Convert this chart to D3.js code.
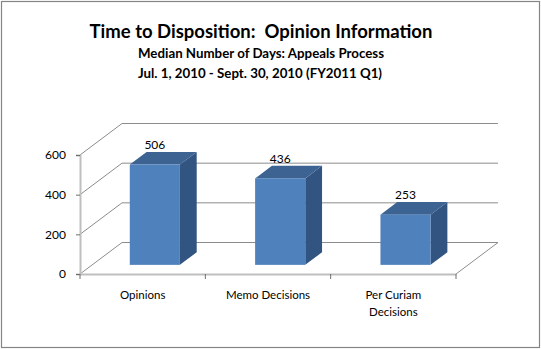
<!DOCTYPE html>
<html>
<head>
<meta charset="utf-8">
<script src="https://cdn.jsdelivr.net/npm/d3@7"></script>
<style>
  body { margin: 0; background: #fff; }
  text { font-family: Lato, "Open Sans", sans-serif; white-space: pre; }
</style>
</head>
<body>
<svg id="chart" width="541" height="349"></svg>
<script>
// chart data
const categories = ["Opinions", "Memo Decisions", "Per Curiam Decisions"];
const medianDays = [506, 436, 253];
const yTicks = [0, 200, 400, 600];
const titleLines = [
    "Time to Disposition:  Opinion Information",
    "Median Number of Days: Appeals Process",
    "Jul. 1, 2010 - Sept. 30, 2010 (FY2011 Q1)"
];

const svg = d3.select("#chart");

// outer border
svg.append("rect")
    .attr("x", 1.5).attr("y", 1.5)
    .attr("width", 538).attr("height", 346)
    .attr("fill", "#fff")
    .attr("stroke", "#858585")
    .attr("stroke-width", 1.2);

// titles
svg.append("text").attr("x", 261).attr("y", 37.5)
    .attr("text-anchor", "middle").attr("font-weight", "bold").attr("font-size", 18.5)
    .text(titleLines[0]);
svg.append("text").attr("x", 261).attr("y", 58)
    .attr("text-anchor", "middle").attr("font-weight", "bold").attr("font-size", 13.3)
    .text(titleLines[1]);
svg.append("text").attr("x", 260).attr("y", 78)
    .attr("text-anchor", "middle").attr("font-weight", "bold").attr("font-size", 13.3)
    .text(titleLines[2]);

// 3D oblique projection setup
const depthX = 42, depthY = 31.5;
const x = d3.scaleBand().domain(categories).range([80, 456]);
const y = d3.scaleLinear().domain([0, 600]).range([274, 155]);
const proj = (px, v, z) => [px + z * depthX, y(v) - z * depthY];

const g = svg.append("g");

// gridlines: left wall diagonals + back wall horizontals
yTicks.forEach(t => {
    const a = proj(80, t, 0), b = proj(80, t, 1), c = proj(456, t, 1);
    g.append("line")
        .attr("x1", a[0]).attr("y1", a[1]).attr("x2", b[0]).attr("y2", b[1])
        .attr("stroke", "#8c8c8c").attr("stroke-width", 1);
    g.append("line")
        .attr("x1", b[0]).attr("y1", b[1]).attr("x2", c[0]).attr("y2", c[1])
        .attr("stroke", "#8c8c8c").attr("stroke-width", 1);
});

// floor right edge
const fr0 = proj(456, 0, 0), fr1 = proj(456, 0, 1);
g.append("line")
    .attr("x1", fr0[0]).attr("y1", fr0[1]).attr("x2", fr1[0]).attr("y2", fr1[1])
    .attr("stroke", "#8c8c8c").attr("stroke-width", 1);

// bars
const z0 = 0.29, z1 = 0.69;
const barW = x.bandwidth() * 0.4;
const pts = arr => arr.map(p => p.join(",")).join(" ");

categories.forEach((c, i) => {
    const v = medianDays[i];
    const xl = x(c) + (x.bandwidth() - barW) / 2;
    const xr = xl + barW;
    // side
    g.append("polygon")
        .attr("points", pts([proj(xr, v, z0), proj(xr, v, z1), proj(xr, 0, z1), proj(xr, 0, z0)]))
        .attr("fill", "#325481");
    // top
    g.append("polygon")
        .attr("points", pts([proj(xl, v, z0), proj(xr, v, z0), proj(xr, v, z1), proj(xl, v, z1)]))
        .attr("fill", "#3d6393");
    // front
    const fl = proj(xl, v, z0), fb = proj(xr, 0, z0);
    g.append("rect")
        .attr("x", fl[0]).attr("y", fl[1])
        .attr("width", fb[0] - fl[0]).attr("height", fb[1] - fl[1])
        .attr("fill", "#4f81bd");
    // value label
    g.append("text")
        .attr("x", (fl[0] + fb[0]) / 2).attr("y", fl[1] - 15.5)
        .attr("text-anchor", "middle").attr("font-size", 12)
        .text(v);
});

// value axis
const yAxis = g.append("g")
    .attr("transform", "translate(80,0)")
    .call(d3.axisLeft(y).tickValues(yTicks).tickSize(4).tickPadding(10));
yAxis.select(".domain").attr("stroke", "#bfbfbf").attr("stroke-width", 2);
yAxis.selectAll(".tick line").attr("stroke", "#6e6e6e");
yAxis.selectAll(".tick text").attr("font-size", 12).attr("font-family", "Lato, sans-serif").attr("fill", "#000");

// category axis
const xAxis = g.append("g")
    .attr("transform", "translate(0,274)")
    .call(d3.axisBottom(x).tickSize(0).tickFormat(""));
xAxis.select(".domain").attr("stroke", "#bfbfbf").attr("stroke-width", 2);
[80].concat(categories.map(c => x(c) + x.bandwidth())).forEach(t => {
    xAxis.append("line")
        .attr("x1", t).attr("x2", t).attr("y1", 0).attr("y2", 5)
        .attr("stroke", "#6e6e6e");
});

// category labels (wrapped)
const catLines = [["Opinions"], ["Memo Decisions"], ["Per Curiam", "Decisions"]];
categories.forEach((c, i) => {
    const t = g.append("text")
        .attr("x", x(c) + x.bandwidth() / 2).attr("y", 299)
        .attr("text-anchor", "middle").attr("font-size", 11.5);
    catLines[i].forEach((ln, j) => {
        t.append("tspan").attr("x", x(c) + x.bandwidth() / 2).attr("dy", j ? 17 : 0).text(ln);
    });
});
</script>
</body>
</html>
